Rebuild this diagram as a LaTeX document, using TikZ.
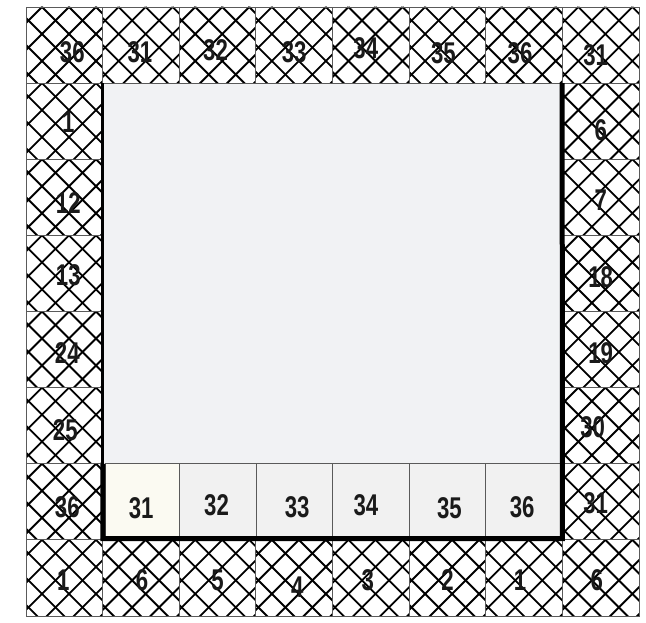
\documentclass[tikz,border=0pt]{standalone}
\usepackage{fontspec}
\newfontfamily\numfont[FakeStretch=0.74]{Liberation Sans Bold}
\definecolor{innerfill}{HTML}{F1F2F4}
\definecolor{creamfill}{HTML}{FBFAF2}
\definecolor{rowfill}{HTML}{F1F1F1}
\definecolor{gridgray}{HTML}{5A5A5A}
\definecolor{numcol}{HTML}{1A1A1A}
\def\cw{76.625}
\def\ch{76.125}
\def\hs{27}
\tikzset{
  hatchline/.style={line width=1.8pt, black},
  cellbox/.style={draw=gridgray, line width=0.9pt, inner sep=0pt, outer sep=0pt,
    minimum width=\cw pt, minimum height=\ch pt, anchor=north west},
  innercell/.style={draw=gridgray, line width=0.8pt, inner sep=0pt, outer sep=0pt,
    minimum height=\ch pt, anchor=north west},
  num/.style={font=\numfont\fontsize{30}{30}\selectfont, text=numcol, inner sep=0pt},
  thickedge/.style={line width=5pt, black},
  thinedge/.style={line width=3pt, black}
}
\newcommand\hatchcell[5]{%
  \pgfmathsetmacro\xa{26+#1*\cw}%
  \pgfmathsetmacro\ya{7+#2*\ch}%
  \begin{scope}
    \clip (\xa,\ya) rectangle ++(\cw,\ch);
    \foreach \k in {-4,...,3} {\draw[hatchline] (\xa+16+\k*\hs,\ya) -- ++(\ch+2,\ch+2);}
    \foreach \k in {-1,...,6} {\draw[hatchline] (\xa+16+\k*\hs,\ya) -- ++(-\ch-2,\ch+2);}
  \end{scope}
  \node[cellbox] (h#1-#2) at (\xa,\ya) {};
  \node[num] (t#1-#2) at ([shift={(#4,#5)}]h#1-#2.center) {#3};
}
\begin{document}
\begin{tikzpicture}[x=1pt,y=-1pt]
\useasboundingbox[fill=white] (0,0) rectangle (646,623);
% inner area
\node[fill=innerfill, inner sep=0pt, outer sep=0pt, minimum width=459.75pt,
  minimum height=380.65pt, anchor=north west] (inner) at (102.6,83.1) {};
% top row
\hatchcell{0}{0}{36}{8}{7}
\hatchcell{1}{0}{31}{-1}{7}
\hatchcell{2}{0}{32}{-2}{5}
\hatchcell{3}{0}{33}{0}{7}
\hatchcell{4}{0}{34}{-5}{3}
\hatchcell{5}{0}{35}{-4}{8}
\hatchcell{6}{0}{36}{-4}{8}
\hatchcell{7}{0}{31}{-5}{10}
% left column
\hatchcell{0}{1}{1}{4}{1}
\hatchcell{0}{2}{12}{4}{6}
\hatchcell{0}{3}{13}{4}{2}
\hatchcell{0}{4}{24}{3}{3}
\hatchcell{0}{5}{25}{1}{4}
\hatchcell{0}{6}{36}{3}{5}
% right column
\hatchcell{7}{1}{6}{0}{9}
\hatchcell{7}{2}{7}{0}{3}
\hatchcell{7}{3}{18}{0}{4}
\hatchcell{7}{4}{19}{0}{4}
\hatchcell{7}{5}{30}{-8}{2}
\hatchcell{7}{6}{31}{-5}{1}
% bottom row
\hatchcell{0}{7}{1}{-1}{2}
\hatchcell{1}{7}{6}{1}{2}
\hatchcell{2}{7}{5}{0}{2}
\hatchcell{3}{7}{4}{3}{9}
\hatchcell{4}{7}{3}{-3}{2}
\hatchcell{5}{7}{2}{0}{2}
\hatchcell{6}{7}{1}{-4}{2}
\hatchcell{7}{7}{6}{-4}{2}
% inner bottom row
\node[innercell, fill=creamfill, minimum width=74.25pt] (b1) at (105,463.75) {};
\node[innercell, fill=rowfill, minimum width=76.65pt] (b2) at (b1.north east) {};
\node[innercell, fill=rowfill, minimum width=76.65pt] (b3) at (b2.north east) {};
\node[innercell, fill=rowfill, minimum width=76.6pt] (b4) at (b3.north east) {};
\node[innercell, fill=rowfill, minimum width=76.65pt] (b5) at (b4.north east) {};
\node[innercell, fill=rowfill, minimum width=76.65pt] (b6) at (b5.north east) {};
\node[num] (n1) at ([shift={(-1,6)}]b1.center) {31};
\node[num] (n2) at ([shift={(-1,3)}]b2.center) {32};
\node[num] (n3) at ([shift={(3,5)}]b3.center) {33};
\node[num] (n4) at ([shift={(-5,3)}]b4.center) {34};
\node[num] (n5) at ([shift={(2,6)}]b5.center) {35};
\node[num] (n6) at ([shift={(-2,5)}]b6.center) {36};
% inner top edge
\draw[gridgray, line width=0.8pt] (inner.north west) -- (inner.north east);
% thick border of the inner area
\draw[thinedge] ([xshift=-0.5pt]inner.north west) -- ([xshift=-0.5pt]inner.south west);
\draw[thickedge] ([xshift=0.2pt]h0-6.north east) -- ([xshift=0.2pt,yshift=1.2pt]h0-6.south east)
  -- ([yshift=1.2pt]h7-6.south west) -- ([xshift=-0.2pt]h7-1.north west);
\end{tikzpicture}
\end{document}
